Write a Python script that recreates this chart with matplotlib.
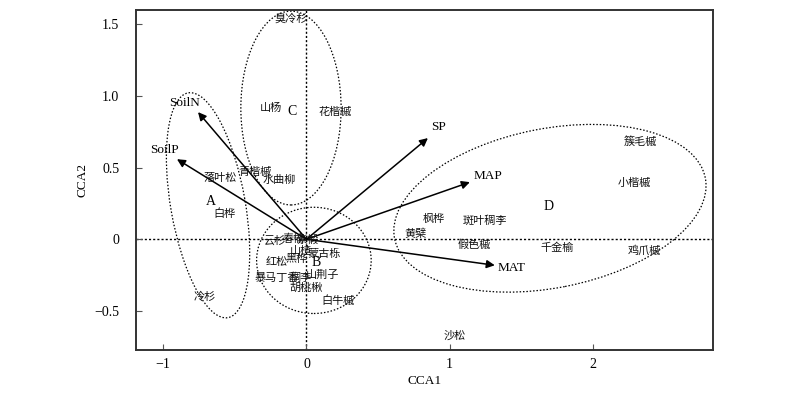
import matplotlib
matplotlib.use("Agg")
import matplotlib.pyplot as plt
from matplotlib.patches import Ellipse

plt.rcParams['font.family'] = ['Liberation Serif', 'Noto Sans CJK SC', 'DejaVu Sans']

# species scores (CCA1, CCA2)
species = ['臭冷杉', '山杨', '花楷槭', '青楷槭', '水曲柳', '落叶松', '白桦', '冷杉',
           '云杉', '春榆', '紫椴', '山楂', '蒙古栎', '红松', '黑桦', '暴马丁香', '稠李',
           '山荆子', '胡桃楸', '白牛槭',
           '簇毛槭', '小楷槭', '枫桦', '斑叶稠李', '黄檗', '假色槭', '千金榆', '鸡爪槭', '沙松']
sp_x = [-0.11, -0.25, 0.20, -0.36, -0.19, -0.60, -0.57, -0.71,
        -0.22, -0.09, 0.01, -0.04, 0.12, -0.21, -0.07, -0.21, -0.04,
        0.11, 0.00, 0.22,
        2.33, 2.29, 0.89, 1.245, 0.76, 1.17, 1.75, 2.36, 1.035]
sp_y = [1.54, 0.915, 0.885, 0.47, 0.41, 0.425, 0.18, -0.40,
        -0.01, 0.005, 0.0, -0.08, -0.10, -0.155, -0.14, -0.27, -0.27,
        -0.245, -0.335, -0.43,
        0.68, 0.39, 0.14, 0.13, 0.04, -0.04, -0.06, -0.08, -0.67]

# environmental vectors
env = ['SoilN', 'SoilP', 'SP', 'MAP', 'MAT']
env_x = [-0.757, -0.904, 0.848, 1.141, 1.315]
env_y = [0.886, 0.558, 0.705, 0.398, -0.181]
env_lx = [-0.85, -0.99, 0.92, 1.27, 1.43]
env_ly = [0.95, 0.62, 0.78, 0.44, -0.20]

# groups
groups = ['A', 'B', 'C', 'D']
grp_x = [-0.67, 0.07, -0.10, 1.69]
grp_y = [0.26, -0.16, 0.89, 0.23]
ell_cx = [-0.687, 0.052, -0.108, 1.70]
ell_cy = [0.237, -0.147, 0.914, 0.216]
ell_w = [1.59, 0.80, 0.70, 2.21]
ell_h = [0.52, 0.74, 1.35, 1.11]
ell_ang = [100, 0, 0, 11]

fig = plt.figure(figsize=(8, 3.95), dpi=100)
ax = fig.add_axes([0.17, 0.114, 0.721, 0.861])

ax.axhline(0, color='black', lw=1, ls=(0, (1.5, 1.5)), zorder=1)
ax.axvline(0, color='black', lw=1, ls=(0, (1.5, 1.5)), zorder=1)

for cx, cy, w, h, a in zip(ell_cx, ell_cy, ell_w, ell_h, ell_ang):
    ax.add_patch(Ellipse((cx, cy), w, h, angle=a, fill=False, ec='black',
                         lw=0.9, ls=(0, (1.2, 1.5))))

for name, x, y, lx, ly in zip(env, env_x, env_y, env_lx, env_ly):
    ax.annotate('', xy=(x, y), xytext=(0, 0),
                arrowprops=dict(arrowstyle='-|>', color='black', lw=1.1,
                                mutation_scale=12, shrinkA=0, shrinkB=0))
    ax.text(lx, ly, name, fontsize=9.5, ha='center', va='center',
            family='Liberation Serif')

for name, x, y in zip(species, sp_x, sp_y):
    ax.text(x, y, name, fontsize=8, ha='center', va='center', color='#111111')

for name, x, y in zip(groups, grp_x, grp_y):
    ax.text(x, y, name, fontsize=10, ha='center', va='center',
            family='Liberation Serif')

ax.set_xlim(-1.19, 2.837)
ax.set_ylim(-0.771, 1.598)
ax.set_xticks([-1, 0, 1, 2])
ax.set_xticklabels(['\u22121', '0', '1', '2'])
ax.set_yticks([-0.5, 0, 0.5, 1.0, 1.5])
ax.set_yticklabels(['\u22120.5', '0', '0.5', '1.0', '1.5'])
ax.tick_params(direction='in', length=4, width=0.8, labelsize=10,
               color='#555555')
ax.tick_params(axis='y', pad=12)
ax.tick_params(axis='x', pad=6)
for s in ax.spines.values():
    s.set_linewidth(1.4)
    s.set_color('#333333')

ax.set_xlabel('CCA1', fontsize=9.5)
ax.set_ylabel('CCA2', fontsize=9.5)
ax.xaxis.set_label_coords(0.5, -0.075)
ax.yaxis.set_label_coords(-0.083, 0.5)

fig.savefig('out.png', dpi=100)
